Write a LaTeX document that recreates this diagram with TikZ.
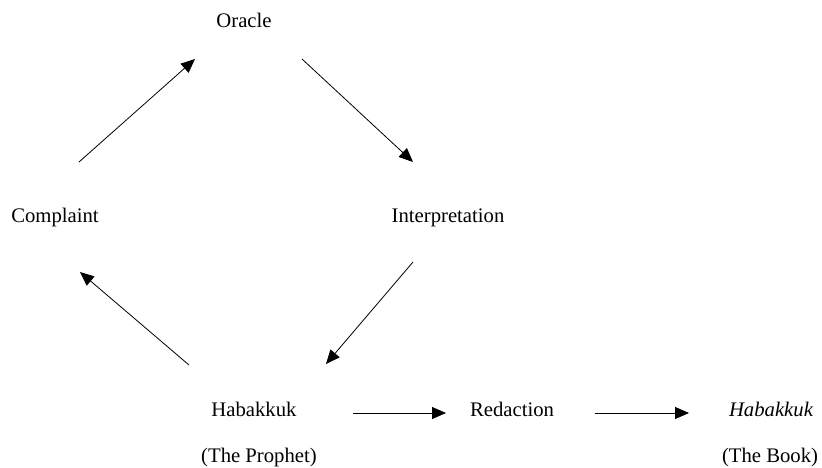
\documentclass[tikz,border=0pt]{standalone}
\usepackage{fontspec}
\setmainfont{Liberation Serif}
\usetikzlibrary{arrows.meta}
\begin{document}
\begin{tikzpicture}[x=1pt,y=-1pt,
  lbl/.style={inner sep=0pt,text height=14pt,text depth=4pt,anchor=base,font=\fontsize{20.7}{25}\selectfont},
  arr/.style={line width=0.8pt,-{Triangle[length=14pt,width=12pt]}}]
\useasboundingbox (0,0) rectangle (822,468);
\node[lbl] (oracle) at (244,28) {Oracle};
\node[lbl] (complaint) at (55,222) {Complaint};
\node[lbl] (interp) at (448,222) {Interpretation};
\node[lbl] (hab) at (254,416) {Habakkuk};
\node[lbl] (prophet) at (259,462) {(The Prophet)};
\node[lbl] (redaction) at (512,416) {Redaction};
\node[lbl] (book) at (771,416) {\itshape Habakkuk};
\node[lbl] (bookcap) at (770,462) {(The Book)};
\draw[arr] ([shift={(24,-55)}]complaint.center) -- ([shift={(-49,36)}]oracle.center);
\draw[arr] ([shift={(58,36)}]oracle.center) -- ([shift={(-35,-55)}]interp.center);
\draw[arr] ([shift={(-35,45)}]interp.center) -- ([shift={(72,-47)}]hab.center);
\draw[arr] ([shift={(-65,-46)}]hab.center) -- ([shift={(25,55)}]complaint.center);
\draw[arr] ([shift={(99,2)}]hab.center) -- ([shift={(-66,2)}]redaction.center);
\draw[arr] ([shift={(83,2)}]redaction.center) -- ([shift={(-82,2)}]book.center);
\end{tikzpicture}
\end{document}
